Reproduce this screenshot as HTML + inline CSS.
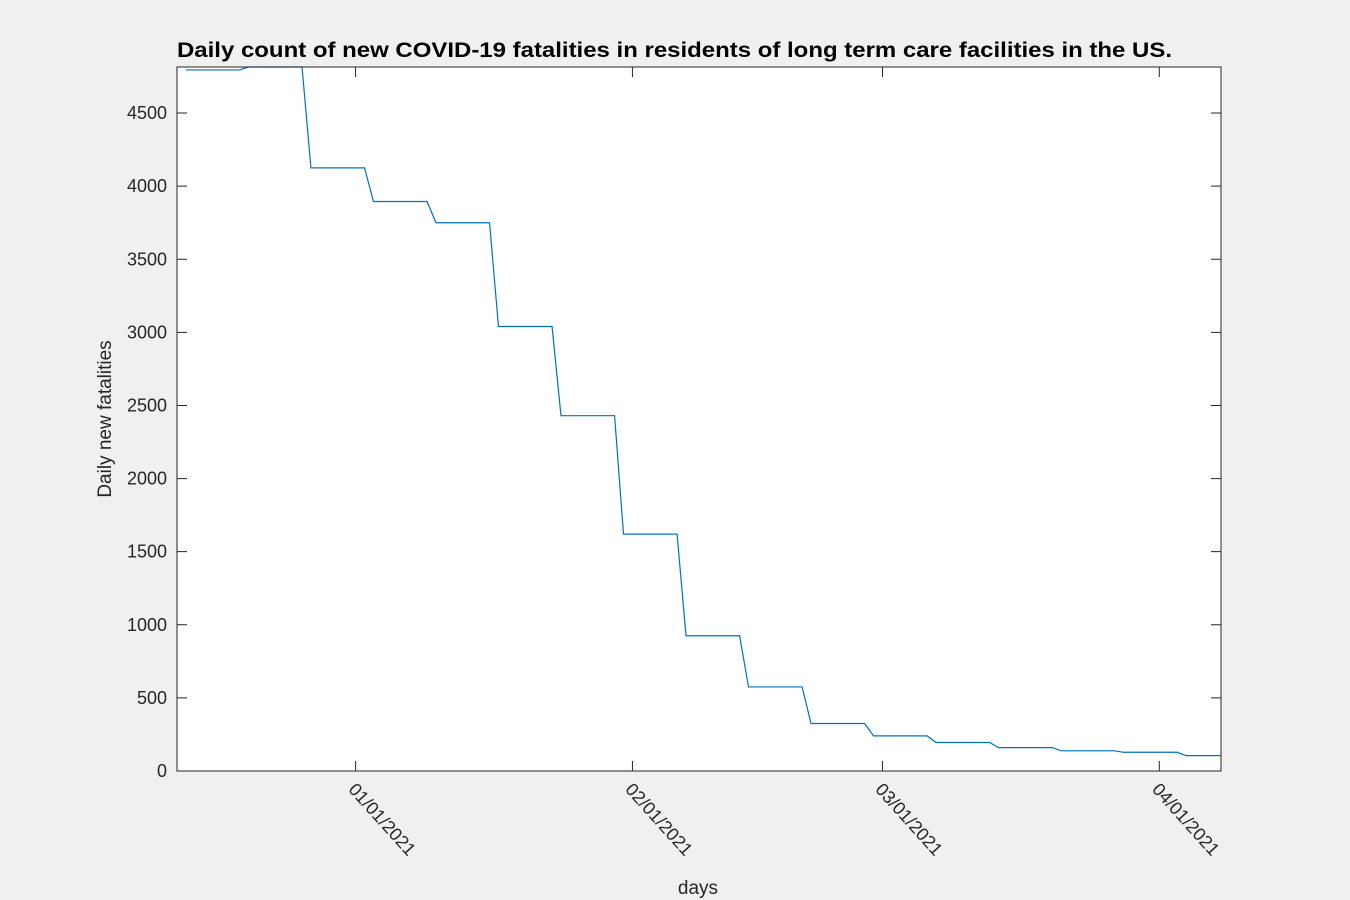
<!DOCTYPE html>
<html><head><meta charset="utf-8"><style>
body{margin:0;background:#f0f0f0;}
svg{display:block;font-family:"Liberation Sans",Arial,sans-serif;}
</style></head><body>
<svg id="chart" width="1350" height="900">
<rect x="0" y="0" width="1350" height="900" fill="#f0f0f0"/>
<rect x="177" y="67" width="1044" height="704" fill="#fff"/>
<text x="177" y="57" font-size="21" font-weight="bold" fill="#000" textLength="995" lengthAdjust="spacingAndGlyphs">Daily count of new COVID-19 fatalities in residents of long term care facilities in the US.</text>
<text x="698" y="894" text-anchor="middle" font-size="19" fill="#262626">days</text>
<text transform="translate(111,419) rotate(-90)" text-anchor="middle" font-size="19" fill="#262626">Daily new fatalities</text>
<g id="ticks"></g>
<path id="line" fill="none" stroke="#0072bd" stroke-width="1.2"/>
<rect x="177" y="67" width="1044" height="704" fill="none" stroke="#262626" stroke-width="1"/>
</svg>
<script>
const weekStarts = ["2020-12-13","2020-12-20","2020-12-27","2021-01-03","2021-01-10","2021-01-17","2021-01-24","2021-01-31","2021-02-07","2021-02-14","2021-02-21","2021-02-28","2021-03-07","2021-03-14","2021-03-21","2021-03-28","2021-04-04"];
const weeklyValues = [4795,4815,4125,3895,3750,3040,2430,1620,925,575,325,240,195,160,138,128,105];
const yTicks = [0,500,1000,1500,2000,2500,3000,3500,4000,4500];
const xTickDates = ["2021-01-01","2021-02-01","2021-03-01","2021-04-01"];
const xTickLabels = ["01/01/2021","02/01/2021","03/01/2021","04/01/2021"];
const lastDate = "2021-04-08";

const DAY = 86400000;
const t0 = Date.UTC(2020,11,12);
const pxPerDay = 8.93;
function xs(dateStr){const p=dateStr.split('-');return 177+(Date.UTC(+p[0],+p[1]-1,+p[2])-t0)/DAY*pxPerDay;}
const yMax = 4815;
function ys(v){return 771 - v/yMax*704;}

const svgNS="http://www.w3.org/2000/svg";
const g=document.getElementById('ticks');
yTicks.forEach(v=>{
  const y=ys(v);
  const l=document.createElementNS(svgNS,'path');
  l.setAttribute('d',`M177 ${y}H187M1221 ${y}H1211`);
  l.setAttribute('stroke','#262626');
  
  
  g.appendChild(l);
  const t=document.createElementNS(svgNS,'text');
  t.setAttribute('x',167);t.setAttribute('y',y+6);
  t.setAttribute('text-anchor','end');t.setAttribute('font-size','18');t.setAttribute('fill','#262626');
  t.textContent=v;
  
  
  g.appendChild(t);
});
xTickDates.forEach((d,i)=>{
  const x=xs(d);
  const l=document.createElementNS(svgNS,'path');
  l.setAttribute('d',`M${x} 771V761M${x} 67V77`);
  l.setAttribute('stroke','#262626');
  
  
  g.appendChild(l);
  const t=document.createElementNS(svgNS,'text');
  t.setAttribute('transform',`translate(${x-8},${790}) rotate(48)`);
  t.setAttribute('font-size','18');t.setAttribute('fill','#262626');
  t.textContent=xTickLabels[i];
  
  
  g.appendChild(t);
});
let d='';
const endX=Math.min(xs(lastDate),1221);
weeklyValues.forEach((v,i)=>{
  const x1=xs(weekStarts[i]);
  const x2=Math.min(x1+6*pxPerDay,endX);
  const y=ys(v);
  d+=(i===0?'M':'L')+x1+' '+y+'L'+(i===weeklyValues.length-1?endX:x2)+' '+y;
});
document.getElementById('line').setAttribute('d',d);
</script>
</body></html>
